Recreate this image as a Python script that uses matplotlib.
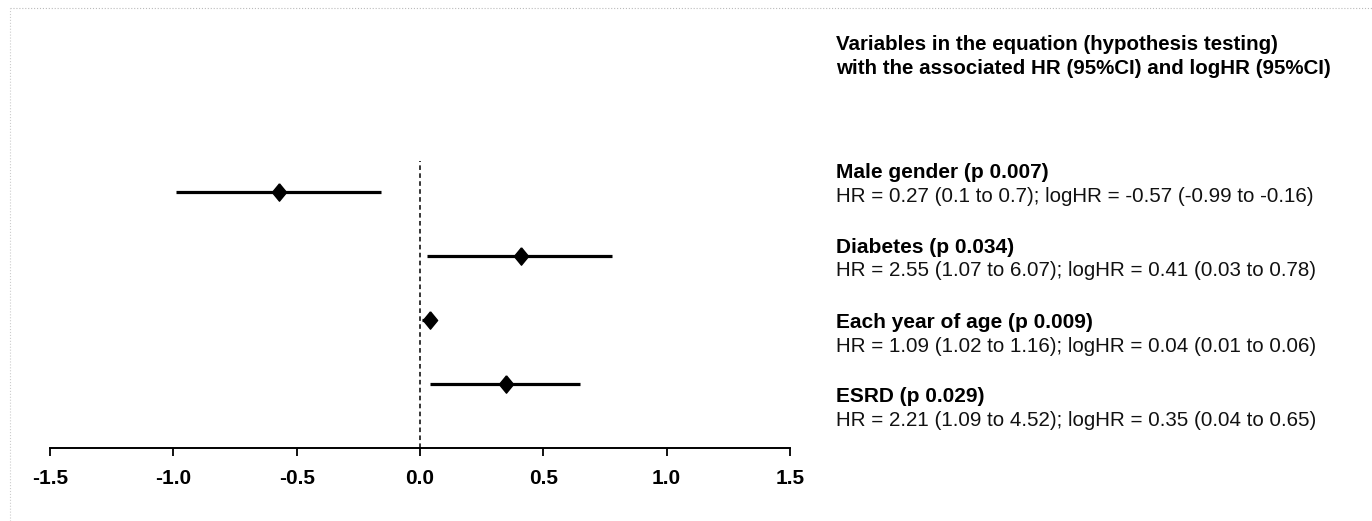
import matplotlib.pyplot as plt
import numpy as np

# log hazard ratios with 95% CI, one row per variable (top to bottom)
labels = ["Male gender (p 0.007)", "Diabetes (p 0.034)",
          "Each year of age (p 0.009)", "ESRD (p 0.029)"]
details = ["HR = 0.27 (0.1 to 0.7); logHR = -0.57 (-0.99 to -0.16)",
           "HR = 2.55 (1.07 to 6.07); logHR = 0.41 (0.03 to 0.78)",
           "HR = 1.09 (1.02 to 1.16); logHR = 0.04 (0.01 to 0.06)",
           "HR = 2.21 (1.09 to 4.52); logHR = 0.35 (0.04 to 0.65)"]
log_hr = [-0.57, 0.41, 0.04, 0.35]
ci_low = [-0.99, 0.03, 0.01, 0.04]
ci_high = [-0.16, 0.78, 0.06, 0.65]
ticks = [-1.5, -1.0, -0.5, 0.0, 0.5, 1.0, 1.5]
title = ["Variables in the equation (hypothesis testing)",
         "with the associated HR (95%CI) and logHR (95%CI)"]

plt.rcParams['font.family'] = ['Liberation Sans', 'DejaVu Sans']

W, H = 1372, 521
fig = plt.figure(figsize=(W / 100, H / 100), dpi=100)
ax = fig.add_axes([50 / W, 73 / H, 740 / W, 299 / H])

# tall diamond marker
diamond = [(0, 1), (0.82, 0), (0, -1), (-0.82, 0), (0, 1)]

y = np.arange(len(log_hr), 0, -1)
ax.hlines(y, ci_low, ci_high, color='black', linewidth=2.3)
ax.plot(log_hr, y, linestyle='none', marker=diamond, color='black', markersize=12.5)
ax.vlines(0, 0, 4.48, color='black', linestyle=(0, (3, 2.2)), linewidth=1.1)

ax.set_xlim(-1.5, 1.5)
ax.set_ylim(0, 4.67)
ax.set_xticks(ticks, [f"{t:.1f}" for t in ticks])
for s in ['top', 'right', 'left']:
    ax.spines[s].set_visible(False)
ax.spines['bottom'].set_linewidth(1.4)
ax.set_yticks([])
ax.tick_params(axis='x', direction='out', length=6, width=1.3, pad=9, labelsize=15)
for lab in ax.get_xticklabels():
    lab.set_fontweight('bold')

# faint scan frame
fig.add_artist(plt.Line2D([10 / W, 1], [1 - 8 / H, 1 - 8 / H], color='#bbbbbb',
                          linestyle=':', linewidth=0.8))
fig.add_artist(plt.Line2D([10 / W, 10 / W], [0, 1 - 8 / H], color='#cccccc',
                          linestyle=':', linewidth=0.8))

tx = 836 / W
for line, py in zip(title, [45, 69]):
    fig.text(tx, 1 - py / H, line, fontsize=14.8, fontweight='bold', va='center')

label_px = [172, 247, 322, 397]
for lab, det, py in zip(labels, details, label_px):
    fig.text(tx, 1 - py / H, lab, fontsize=15, fontweight='bold', va='center')
    fig.text(tx, 1 - (py + 24) / H, det, fontsize=14.8, va='center', color='#111111')

fig.savefig("out.png", dpi=100)
